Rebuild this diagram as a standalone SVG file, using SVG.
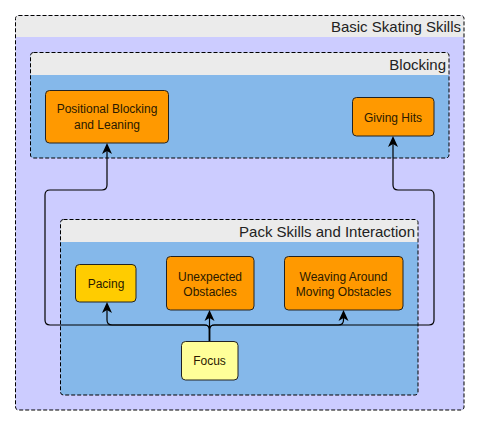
<svg xmlns="http://www.w3.org/2000/svg" width="480" height="425" viewBox="0 0 480 425">
<style>
.grp{stroke:#000;stroke-width:1;stroke-dasharray:4,2;fill:none}
.hdr{fill:#ebebeb}
.title{font-family:"Liberation Sans",Arial,sans-serif;font-size:15px;fill:#222;text-anchor:end}
.node{stroke:#222;stroke-width:1}
.orange{fill:#ff9900}
.label{font-family:"Liberation Sans",Arial,sans-serif;font-size:12px;fill:#2a1a00;text-anchor:middle}
.edge{fill:none;stroke:#000;stroke-width:1.2}
</style>
<defs>
<marker id="arr" viewBox="-12 -6 12 12" refX="-6" refY="0" markerWidth="12" markerHeight="12" orient="auto" markerUnits="userSpaceOnUse">
<path d="M0,0 L-11,-5 L-8,0 L-11,5 Z" fill="#000"/>
</marker>
</defs>
<rect width="480" height="425" fill="#fff"/>
<g id="basic-skating-skills">
<rect x="15.5" y="15.5" width="448.5" height="394.5" rx="3" fill="#ccccff"/>
<path d="M18.5,15.5 H461 Q464,15.5 464,18.5 V37 H15.5 V18.5 Q15.5,15.5 18.5,15.5 Z" class="hdr"/>
<rect x="15.5" y="15.5" width="448.5" height="394.5" rx="3" class="grp"/>
<text x="461" y="32" class="title">Basic Skating Skills</text>
</g>
<g id="blocking">
<rect x="30.5" y="52.5" width="418.5" height="105.5" rx="3" fill="#85b8ea"/>
<path d="M33.5,52.5 H446 Q449,52.5 449,55.5 V75 H30.5 V55.5 Q30.5,52.5 33.5,52.5 Z" class="hdr"/>
<rect x="30.5" y="52.5" width="418.5" height="105.5" rx="3" class="grp"/>
<text x="446" y="70" class="title">Blocking</text>
</g>
<g id="pack-skills">
<rect x="60.5" y="219.5" width="357.5" height="175.5" rx="3" fill="#85b8ea"/>
<path d="M63.5,219.5 H415 Q418,219.5 418,222.5 V242 H60.5 V222.5 Q60.5,219.5 63.5,219.5 Z" class="hdr"/>
<rect x="60.5" y="219.5" width="357.5" height="175.5" rx="3" class="grp"/>
<text x="415" y="237" class="title">Pack Skills and Interaction</text>
</g>
<g id="positional-blocking">
<rect x="45.5" y="90.5" width="123" height="52.5" rx="4" class="node orange"/>
<text x="107" y="113" class="label">Positional Blocking</text>
<text x="107" y="128.5" class="label">and Leaning</text>
</g>
<g id="giving-hits">
<rect x="352.5" y="97.5" width="81.5" height="38.5" rx="4" class="node orange"/>
<text x="393" y="121.5" class="label">Giving Hits</text>
</g>
<g id="pacing">
<rect x="75.5" y="264.5" width="60.5" height="37.5" rx="4" class="node" fill="#ffcc00"/>
<text x="106" y="287.5" class="label">Pacing</text>
</g>
<g id="unexpected-obstacles">
<rect x="166.5" y="256.5" width="87.5" height="53.5" rx="4" class="node orange"/>
<text x="210" y="280.5" class="label">Unexpected</text>
<text x="210" y="295.5" class="label">Obstacles</text>
</g>
<g id="weaving">
<rect x="284.5" y="256.5" width="118.5" height="53.5" rx="4" class="node orange"/>
<text x="343.5" y="280.5" class="label">Weaving Around</text>
<text x="343.5" y="295.5" class="label">Moving Obstacles</text>
</g>
<g id="focus">
<rect x="181.5" y="341.5" width="56.5" height="38.5" rx="4" class="node" fill="#ffff99"/>
<text x="209.5" y="365" class="label">Focus</text>
</g>
<g id="connectors">
<path class="edge" marker-end="url(#arr)" d="M209.5,341 V330 Q209.5,325 204.5,325 H50 Q45,325 45,320 V195 Q45,190 50,190 H102 Q107,190 107,185 V149"/>
<path class="edge" marker-end="url(#arr)" d="M209.5,341 V330 Q209.5,325 214.5,325 H429 Q434,325 434,320 V195 Q434,190 429,190 H398 Q393,190 393,185 V142"/>
<path class="edge" marker-end="url(#arr)" d="M209.5,341 V330 Q209.5,325 204.5,325 H112 Q107,325 107,320 V308"/>
<path class="edge" marker-end="url(#arr)" d="M209.5,341 V316"/>
<path class="edge" marker-end="url(#arr)" d="M209.5,341 V330 Q209.5,325 214.5,325 H338.5 Q343.5,325 343.5,320 V316"/>
</g>
</svg>
